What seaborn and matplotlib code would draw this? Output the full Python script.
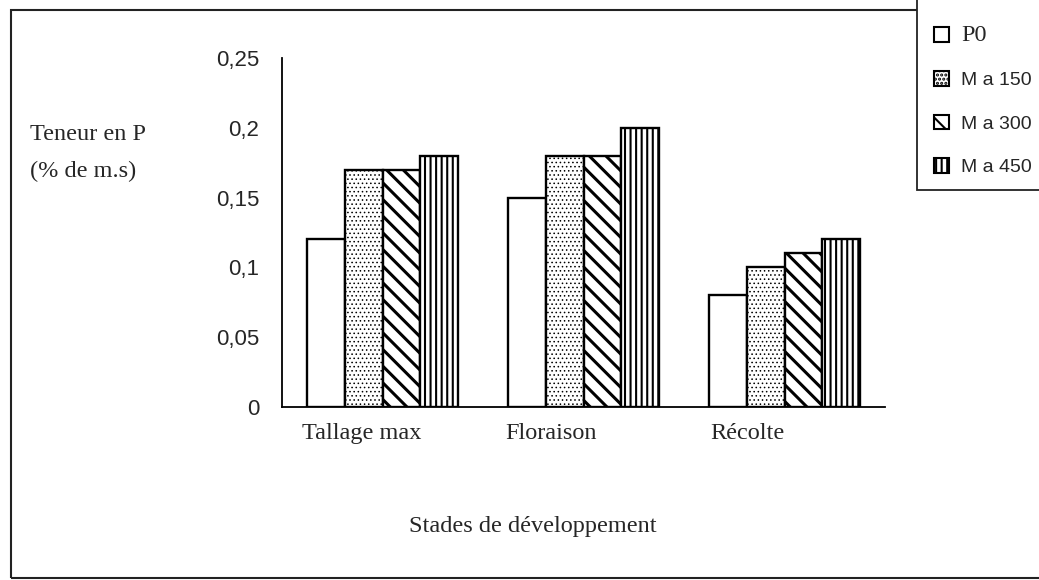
import matplotlib
matplotlib.use("Agg")
import matplotlib.pyplot as plt
import seaborn as sns
import pandas as pd
from matplotlib.patches import Patch, Rectangle

# ---------------- data ----------------
stades = ["Tallage max", "Floraison", "Récolte"]
traitements = ["P0", "M a 150", "M a 300", "M a 450"]
p0 = [0.12, 0.15, 0.08]
ma150 = [0.17, 0.18, 0.10]
ma300 = [0.17, 0.18, 0.11]
ma450 = [0.18, 0.20, 0.12]
yticks = [0, 0.05, 0.10, 0.15, 0.20, 0.25]
ytick_labels = ["0", "0,05", "0,1", "0,15", "0,2", "0,25"]
ylabel_lines = ["Teneur en P", "(% de m.s)"]
xlabel = "Stades de développement"

# ---------------- style ----------------
sns.set_style("white")
plt.rcParams["font.family"] = ["Liberation Serif", "DejaVu Serif"]
plt.rcParams["hatch.linewidth"] = 1.5
plt.rcParams["hatch.color"] = "black"

W, H = 1039, 580
fig = plt.figure(figsize=(W / 100, H / 100), dpi=100)
fig.patch.set_facecolor("white")
ax = fig.add_axes([282 / W, 1 - 407 / H, (885 - 282) / W, (407 - 58) / H])

df = pd.DataFrame({
    "stade": stades * 4,
    "traitement": [t for t in traitements for _ in stades],
    "teneur": p0 + ma150 + ma300 + ma450,
})

sns.barplot(data=df, x="stade", y="teneur", hue="traitement",
            order=stades, hue_order=traitements,
            palette=["white"] * 4, saturation=1,
            edgecolor="black", linewidth=1.7, width=0.75, gap=0,
            errorbar=None, legend=False, ax=ax)

hatches = ["", "....", "\\\\", "|||"]
hatch_lw = [1.0, 0.6, 2.2, 1.5]
for cont, h, lw in zip(ax.containers, hatches, hatch_lw):
    for bar in cont:
        bar.set_hatch(h)
        if hasattr(bar, "set_hatch_linewidth"):
            bar.set_hatch_linewidth(lw)

ax.set_xlim(-0.5, len(stades) - 0.5)
ax.set_ylim(0, 0.25)
ax.set_xlabel("")
ax.set_ylabel("")
ax.set_facecolor("white")

# y axis
ax.set_yticks(yticks, ytick_labels)
ax.tick_params(axis="y", direction="out", length=6.5, width=1.3, pad=10,
               labelsize=16, color="black")
for lbl in ax.get_yticklabels():
    lbl.set_fontfamily(["Liberation Sans", "DejaVu Sans"])

# x axis: ticks on category boundaries, labels left-aligned in each slot
ax.set_xticks([i - 0.5 for i in range(len(stades) + 1)], [""] * (len(stades) + 1))
offsets = [0.10, 0.11, 0.13]
ax.set_xticks([i - 0.5 + o for i, o in enumerate(offsets)], stades, minor=True)
ax.tick_params(axis="x", which="major", direction="out", length=4.5, width=1.3, color="black")
ax.tick_params(axis="x", which="minor", length=0, pad=11.5, labelsize=17.5)
for lbl in ax.get_xticklabels(minor=True):
    lbl.set_ha("left")

for s in ["top", "right"]:
    ax.spines[s].set_visible(False)
for s in ["left", "bottom"]:
    ax.spines[s].set_color("black")
    ax.spines[s].set_linewidth(1.3)

# axis titles
fig.text(30 / W, 1 - 140 / H, ylabel_lines[0], fontsize=17.5, va="baseline", ha="left")
fig.text(30 / W, 1 - 177 / H, ylabel_lines[1], fontsize=17.5, va="baseline", ha="left")
fig.text(533 / W, 1 - 532 / H, xlabel, fontsize=17.5, va="baseline", ha="center")

# outer chart frame
fig.patches.append(Rectangle((11 / W, 1 - 578 / H), (1080 - 11) / W, (578 - 10) / H,
                             transform=fig.transFigure, fill=False,
                             edgecolor="#222222", lw=1.5, zorder=0))
# legend box
fig.patches.append(Rectangle((917 / W, 1 - 190 / H), 200 / W, 200 / H,
                             transform=fig.transFigure, facecolor="white",
                             edgecolor="#222222", lw=1.3, zorder=1))

handles = [Patch(facecolor="white", edgecolor="black", hatch=h, linewidth=1.5)
           for h in hatches]
leg = fig.legend(handles, traitements, loc="upper left",
                 bbox_to_anchor=(934 / W, 1 - 25 / H), frameon=False,
                 fontsize=14, handlelength=0.78, handleheight=0.78,
                 handletextpad=0.6, labelspacing=1.3, borderpad=0,
                 borderaxespad=0)
leg.set_zorder(5)
texts = leg.get_texts()
texts[0].set_fontfamily(["Liberation Serif", "DejaVu Serif"])
texts[0].set_fontsize(17.5)
for t in texts[1:]:
    t.set_fontfamily(["Liberation Sans", "DejaVu Sans"])

fig.savefig("out.png", dpi=100, facecolor="white")
